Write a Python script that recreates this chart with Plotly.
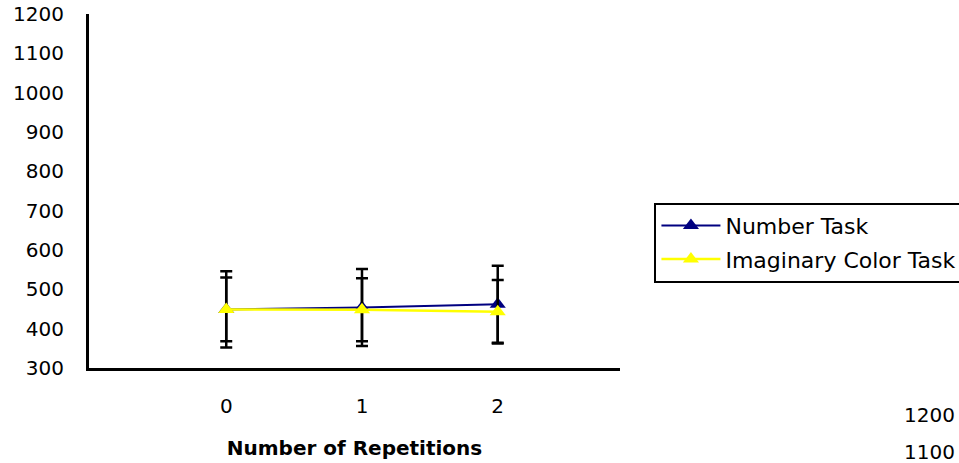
import plotly.graph_objects as go

repetitions = [0, 1, 2]
tick_labels = ["0", "1", "2"]
number_task = [449, 454, 462]
number_err = [97, 98, 98]
color_task = [449, 448, 443]
color_err = [81, 80, 81]
y_ticks = [300, 400, 500, 600, 700, 800, 900, 1000, 1100, 1200]
stray_labels = ["1200", "1100"]

FONT = "DejaVu Sans"

fig = go.Figure()
fig.add_trace(go.Scatter(
    x=repetitions, y=number_task, name="Number Task", legendgroup="a",
    mode="lines+markers",
    line=dict(color="#000080", width=2),
    marker=dict(symbol="triangle-up", size=14, color="#000080"),
    error_y=dict(type="data", array=number_err, visible=True, color="black",
                 thickness=2.5, width=6),
))
fig.add_trace(go.Scatter(
    x=repetitions, y=color_task, name="Imaginary Color Task", legendgroup="b",
    mode="lines+markers",
    line=dict(color="#FFFF00", width=2.5),
    marker=dict(symbol="triangle-up", size=14, color="#FFFF00"),
    error_y=dict(type="data", array=color_err, visible=True, color="black",
                 thickness=2.5, width=6),
))

for i, t in enumerate(stray_labels):
    fig.add_annotation(text=t, xref="paper", yref="paper", x=(958 - 88.5) / 532,
                       y=(368 - (415 + 37 * i)) / 354, xanchor="right", yanchor="middle",
                       showarrow=False, font=dict(family=FONT, size=20, color="black"))

fig.update_layout(
    width=959, height=463,
    margin=dict(l=88.5, r=338.5, t=14, b=95, autoexpand=False),
    paper_bgcolor="white", plot_bgcolor="white",
    font=dict(family=FONT, size=20, color="black"),
    showlegend=True,
    legend=dict(x=(655 - 88.5) / 532, y=(368 - 202.7) / 354, xanchor="left", yanchor="top",
                bgcolor="white", bordercolor="black", borderwidth=2,
                font=dict(family=FONT, size=22, color="black"),
                itemwidth=59, tracegroupgap=2, traceorder="grouped"),
    xaxis=dict(range=[(88.5 - 226) / 136, (620.5 - 226) / 136],
               tickvals=repetitions, ticktext=tick_labels,
               showgrid=False, zeroline=False, showline=True, linecolor="black", linewidth=3,
               ticks="", ticklabelstandoff=18,
               title=dict(text="<b>Number of Repetitions</b>", standoff=24,
                          font=dict(family=FONT, size=20, color="black"))),
    yaxis=dict(range=[300, 1200], tickvals=y_ticks,
               showgrid=False, zeroline=False, showline=True, linecolor="black", linewidth=3,
               ticks="", ticklabelstandoff=18),
)

fig.write_html("out.html", config={"displayModeBar": False},
               post_script="document.body.style.margin='0';document.body.style.overflow='hidden';")
